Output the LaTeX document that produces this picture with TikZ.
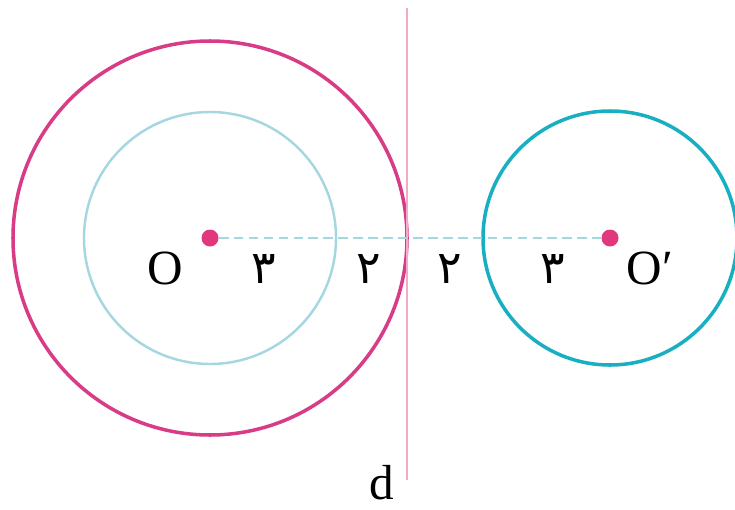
\documentclass[tikz,border=0pt]{standalone}
\usepackage{fontspec}
\setmainfont{Liberation Serif}
\newfontfamily\arabicfont[Script=Arabic]{DejaVu Sans}
\TeXXeTstate=1
\usepackage{tikz}
\usetikzlibrary{positioning}

\definecolor{bigpink}{RGB}{217,60,135}
\definecolor{paleblue}{RGB}{165,215,225}
\definecolor{sharpcyan}{RGB}{25,175,195}
\definecolor{linepink}{RGB}{242,170,198}
\definecolor{dotpink}{RGB}{225,55,125}

\begin{document}
\begin{tikzpicture}[
    dot/.style={circle, fill=dotpink, inner sep=0pt, minimum size=0.34cm},
    lbl/.style={font=\fontsize{28}{30}\selectfont, inner sep=0pt},
    num/.style={font=\arabicfont\fontsize{26}{30}\selectfont, inner sep=0pt}
  ]
  \useasboundingbox (0,0) rectangle (14.7,10.18);

  % centres
  \node[dot] (O) at (4.2,5.42) {};
  \node[dot] (Op) at (12.2,5.42) {};

  % circles
  \draw[bigpink, line width=2pt] (O.center) circle[radius=3.94];
  \draw[paleblue, line width=1.4pt] (O.center) circle[radius=2.52];
  \draw[sharpcyan, line width=2pt] (Op.center) circle[radius=2.54];

  % line d
  \coordinate (dtop) at (8.14,10.02);
  \coordinate (dbot) at (8.14,0.58);
  \draw[linepink, line width=1pt] (dtop) -- (dbot);

  \draw[paleblue, line width=1.2pt, dash pattern=on 5.5pt off 3pt] (O) -- (Op);

  % labels
  \node[lbl] (lO) at (3.3,4.82) {O};
  \node[lbl] (lOp) at (13.0,4.82) {O′};
  \node[lbl] (ld) at (7.64,0.53) {d};
  \node[num] (n1) at (5.28,4.8) {\beginR ۳\endR};
  \node[num] (n2) at (7.38,4.8) {\beginR ۲\endR};
  \node[num] (n3) at (9.0,4.8) {\beginR ۲\endR};
  \node[num] (n4) at (11.06,4.8) {\beginR ۳\endR};
\end{tikzpicture}
\end{document}
